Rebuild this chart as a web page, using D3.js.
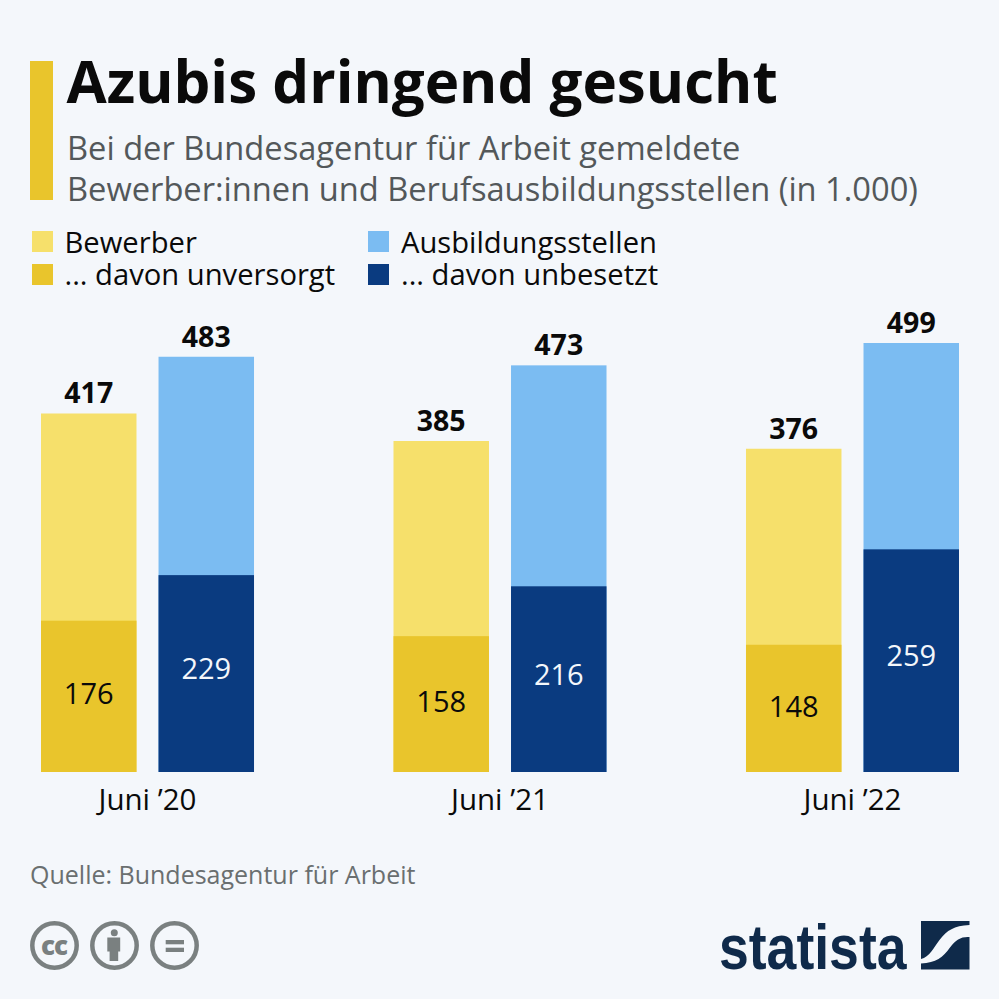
<!DOCTYPE html>
<html><head><meta charset="utf-8">
<script src="https://cdn.jsdelivr.net/npm/d3@7/dist/d3.min.js"></script>
<style>html,body{margin:0;padding:0;background:#f4f7fb}svg{display:block}text{font-family:"Open Sans",sans-serif}</style>
</head><body><svg id="c" width="999" height="999"></svg>
<script>
const categories=["Juni ’20","Juni ’21","Juni ’22"];
const bewerber=[417,385,376];
const unversorgt=[176,158,148];
const stellen=[483,473,499];
const unbesetzt=[229,216,259];
const legendLabels=["Bewerber","... davon unversorgt","Ausbildungsstellen","... davon unbesetzt"];
const colors={bewerber:"#f6e06b",unversorgt:"#e9c52c",stellen:"#7bbcf2",unbesetzt:"#0a3b80"};
const svg=d3.select("#c");
svg.append("rect").attr("width",999).attr("height",999).attr("fill","#f4f7fb");
svg.append("rect").attr("x",30).attr("y",61).attr("width",23).attr("height",139).attr("fill",colors.unversorgt);
svg.append("text").attr("x",66.5).attr("y",103).attr("font-size",58.3).attr("font-weight",700).attr("fill","#0a0a0a").text("Azubis dringend gesucht");
[["Bei der Bundesagentur für Arbeit gemeldete",160],["Bewerber:innen und Berufsausbildungsstellen (in 1.000)",200.5]].forEach(([t,y])=>
 svg.append("text").attr("x",67).attr("y",y).attr("font-size",32.65).attr("fill","#53585a").text(t));
[[32,252,colors.bewerber,64.5,0],[32,285,colors.unversorgt,64.5,1],[368,252,colors.stellen,401,2],[368,285,colors.unbesetzt,401,3]].forEach(([x,y,c,tx,i])=>{
 svg.append("rect").attr("x",x).attr("y",y-21).attr("width",21).attr("height",21).attr("fill",c);
 svg.append("text").attr("x",tx).attr("y",y+(i%2?0:0.5)).attr("font-size",29.2).attr("fill","#0a0a0a").text(legendLabels[i]);
});
const x=d3.scaleBand().domain(categories).range([41,959]).paddingInner(0.3957);
const inner=d3.scaleBand().domain(["a","b"]).range([0,x.bandwidth()]).paddingInner(0.1875);
const y=d3.scaleLinear().domain([0,499]).range([772,343]);
const row=(k,arr,c,sub,subC)=>categories.forEach((cat,i)=>{
 const X=x(cat)+inner(k),W=inner.bandwidth();
 svg.append("rect").attr("x",X).attr("y",y(arr[i])).attr("width",W).attr("height",772-y(arr[i])).attr("fill",c);
 svg.append("rect").attr("x",X).attr("y",y(sub[i])).attr("width",W).attr("height",772-y(sub[i])).attr("fill",subC);
 svg.append("text").attr("x",X+W/2).attr("y",y(arr[i])-10).attr("text-anchor","middle").attr("font-size",28.5).attr("font-weight",700).attr("fill","#0a0a0a").text(arr[i]);
 svg.append("text").attr("x",X+W/2).attr("y",772-(772-y(sub[i]))*0.535+12.7).attr("text-anchor","middle").attr("font-size",29).attr("fill",k==="a"?"#0a0a0a":"#f4f7fb").text(sub[i]);
});
row("a",bewerber,colors.bewerber,unversorgt,colors.unversorgt);
row("b",stellen,colors.stellen,unbesetzt,colors.unbesetzt);
categories.forEach(cat=>svg.append("text").attr("x",x(cat)+x.bandwidth()/2).attr("y",809.5).attr("text-anchor","middle").attr("font-size",29.5).attr("fill","#0a0a0a").text(cat));
svg.append("text").attr("x",30).attr("y",884).attr("font-size",25).attr("fill","#6a6f70").text("Quelle: Bundesagentur für Arbeit");
// licence icons
const g="#7a8080";
[54.5,114.5,174.5].forEach(cx=>svg.append("circle").attr("cx",cx).attr("cy",945.5).attr("r",22.2).attr("fill","none").attr("stroke",g).attr("stroke-width",4.5));
svg.append("text").attr("x",54).attr("y",954.5).attr("text-anchor","middle").attr("font-size",26).attr("font-weight",800).attr("letter-spacing",-1).attr("fill",g).text("cc");
svg.append("circle").attr("cx",114.3).attr("cy",932.7).attr("r",3.5).attr("fill",g);
svg.append("path").attr("d","M107.3 937.5h12.9v14h-2v9.5h-8.6v-9.5h-2.3z").attr("fill",g);
svg.append("rect").attr("x",165.7).attr("y",940).attr("width",18.3).attr("height",4.3).attr("fill",g);
svg.append("rect").attr("x",165.7).attr("y",947.7).attr("width",18.3).attr("height",4.3).attr("fill",g);
// logo
svg.append("text").attr("x",719).attr("y",968.5).attr("font-size",63).attr("font-weight",700).attr("fill","#0f2a4a")
 .attr("textLength",187.5).attr("lengthAdjust","spacingAndGlyphs").style("font-family","'Liberation Sans Narrow',sans-serif").text("statista");
svg.append("path").attr("fill","#0f2a4a").attr("d","M921 921h48.5v4c-16 1-22 5-30 15c-6 8-10 17-18.500 19z");
svg.append("path").attr("fill","#0f2a4a").attr("d","M969.500 937v32.500h-48.500v-6c15-1 22-6 29-16c6-8 11-11 19.500-10.500z");
</script></body></html>
